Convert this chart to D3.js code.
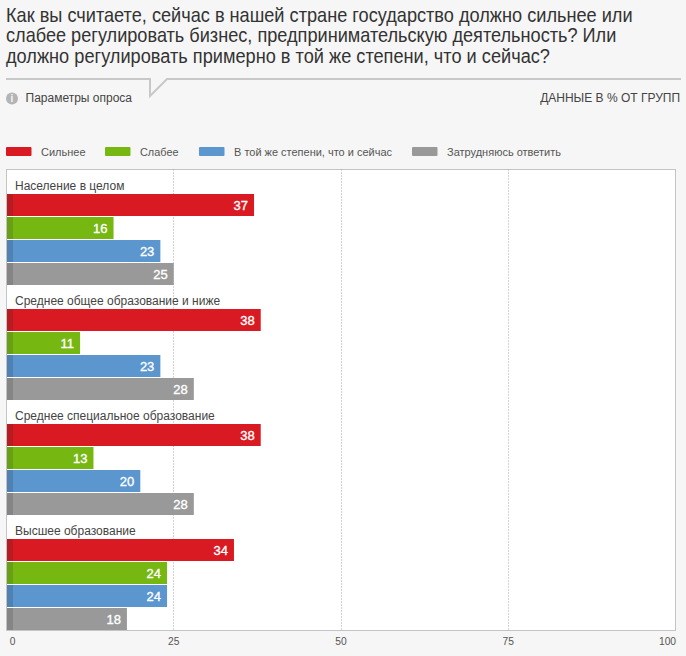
<!DOCTYPE html>
<html><head><meta charset="utf-8">
<script src="https://cdn.jsdelivr.net/npm/d3@7"></script>
<style>
html,body{margin:0;padding:0;background:#f6f6f6;}
svg{display:block;}
text{font-family:"Liberation Sans",Arial,sans-serif;}
</style></head><body><div id="c"></div>
<script>
const titleLines = ["Как вы считаете, сейчас в нашей стране государство должно сильнее или","слабее регулировать бизнес, предпринимательскую деятельность? Или","должно регулировать примерно в той же степени, что и сейчас?"];
const groups = ["Население в целом","Среднее общее образование и ниже","Среднее специальное образование","Высшее образование"];
const seriesNames = ["Сильнее","Слабее","В той же степени, что и сейчас","Затрудняюсь ответить"];
const seriesColors = ["#d91a22","#77b712","#5b96cf","#999999"];
const seriesDark = ["#b81c23","#689f16","#4f82b2","#858585"];
const silnee = [37,38,38,34];
const slabee = [16,11,13,24];
const same = [23,23,20,24];
const hard = [25,28,28,18];
const tickValues = [0,25,50,75,100];
const values = [silnee,slabee,same,hard];

const W=686,H=656;
const svg=d3.select("#c").append("svg").attr("width",W).attr("height",H);
svg.append("rect").attr("width",W).attr("height",H).attr("fill","#f6f6f6");

const titleW=[627,611,544];
svg.selectAll("text.title").data(titleLines).join("text").attr("class","title")
 .attr("fill","#333").style("font-size","20px").text(d=>d)
 .attr("transform",function(d,i){
   const k=titleW[i]/this.getComputedTextLength();
   return `translate(6,${21.5+i*20.5}) scale(${k},1)`;
 });

svg.append("path").attr("d","M6 79H150V96L167 79H681").attr("fill","none").attr("stroke","#c8c8c8").attr("stroke-width",2);
svg.append("circle").attr("cx",12).attr("cy",98.5).attr("r",6).attr("fill","#b4b4b4");
svg.append("text").attr("x",12).attr("y",102).attr("text-anchor","middle").attr("fill","#f6f6f6").style("font-size","10px").style("font-weight","bold").text("i");
svg.append("text").attr("x",25.5).attr("y",102).attr("fill","#444").style("font-size","12px").text("Параметры опроса");
svg.append("text").attr("x",680).attr("y",102).attr("text-anchor","end").attr("fill","#444").style("font-size","12px").text("ДАННЫЕ В % ОТ ГРУПП");

// legend
const legendX=[6,105,199,412];
const legendW=[44.5,38.5,158,114];
const lg=svg.selectAll("g.lg").data(seriesNames).join("g").attr("class","lg").attr("transform",(d,i)=>`translate(${legendX[i]},147)`);
lg.append("rect").attr("width",25.5).attr("height",9).attr("rx",1).attr("fill",(d,i)=>seriesColors[i]);
lg.append("text").attr("x",35).attr("y",8.5).attr("fill","#555")
 .attr("textLength",(d,i)=>legendW[i]).attr("lengthAdjust","spacingAndGlyphs").style("font-size","11px").text(d=>d);

const x=d3.scaleLinear().domain([0,100]).range([6.5,675.5]);
const y0=d3.scaleBand().domain(groups).range([171,631]);
const y1=d3.scaleBand().domain(seriesNames).range([23,115]);
const plotTop=169.5,plotBottom=630.5;

svg.append("rect").attr("x",x(0)).attr("y",plotTop).attr("width",x(100)-x(0)).attr("height",plotBottom-plotTop).attr("fill","#fff").attr("stroke","#c4c4c4");

svg.selectAll("line.grid").data(tickValues.slice(1,-1)).join("line").attr("class","grid")
 .attr("x1",d=>Math.floor(x(d))+.5).attr("x2",d=>Math.floor(x(d))+.5).attr("y1",plotTop).attr("y2",plotBottom)
 .attr("stroke","#a8a8a8").attr("stroke-dasharray","1,2");

const gs=svg.selectAll("g.grp").data(groups).join("g").attr("class","grp").attr("transform",d=>`translate(0,${y0(d)})`);
gs.append("text").attr("x",15).attr("y",18.5).attr("fill","#444").style("font-size","12px").text(d=>d);
seriesNames.forEach((s,si)=>{
  const b=gs.append("g");
  b.append("rect").attr("x",x(0)+.5).attr("y",y1(s)).attr("height",22)
   .attr("width",(d,i)=>x(values[si][i])-x(0)-.5).attr("fill",seriesColors[si]);
  b.append("rect").attr("x",x(0)+.5).attr("y",y1(s)).attr("height",22)
   .attr("width",6).attr("fill",seriesDark[si]);
  b.append("text").attr("x",(d,i)=>x(values[si][i])-6).attr("y",y1(s)+15.5).attr("text-anchor","end")
   .attr("fill","#fff").attr("stroke","#fff").attr("stroke-width",.35).style("font-size","13px").text((d,i)=>values[si][i]);
});

svg.selectAll("text.tick").data(tickValues).join("text").attr("class","tick")
 .attr("x",d=>d===100?x(d)-8:(d===0?x(d)+6:x(d)))
 .attr("y",645).attr("text-anchor","middle").attr("fill","#555")
 .attr("textLength",d=>String(d).length*5.7).attr("lengthAdjust","spacingAndGlyphs")
 .style("font-size","11.5px").text(d=>d);
</script></body></html>
